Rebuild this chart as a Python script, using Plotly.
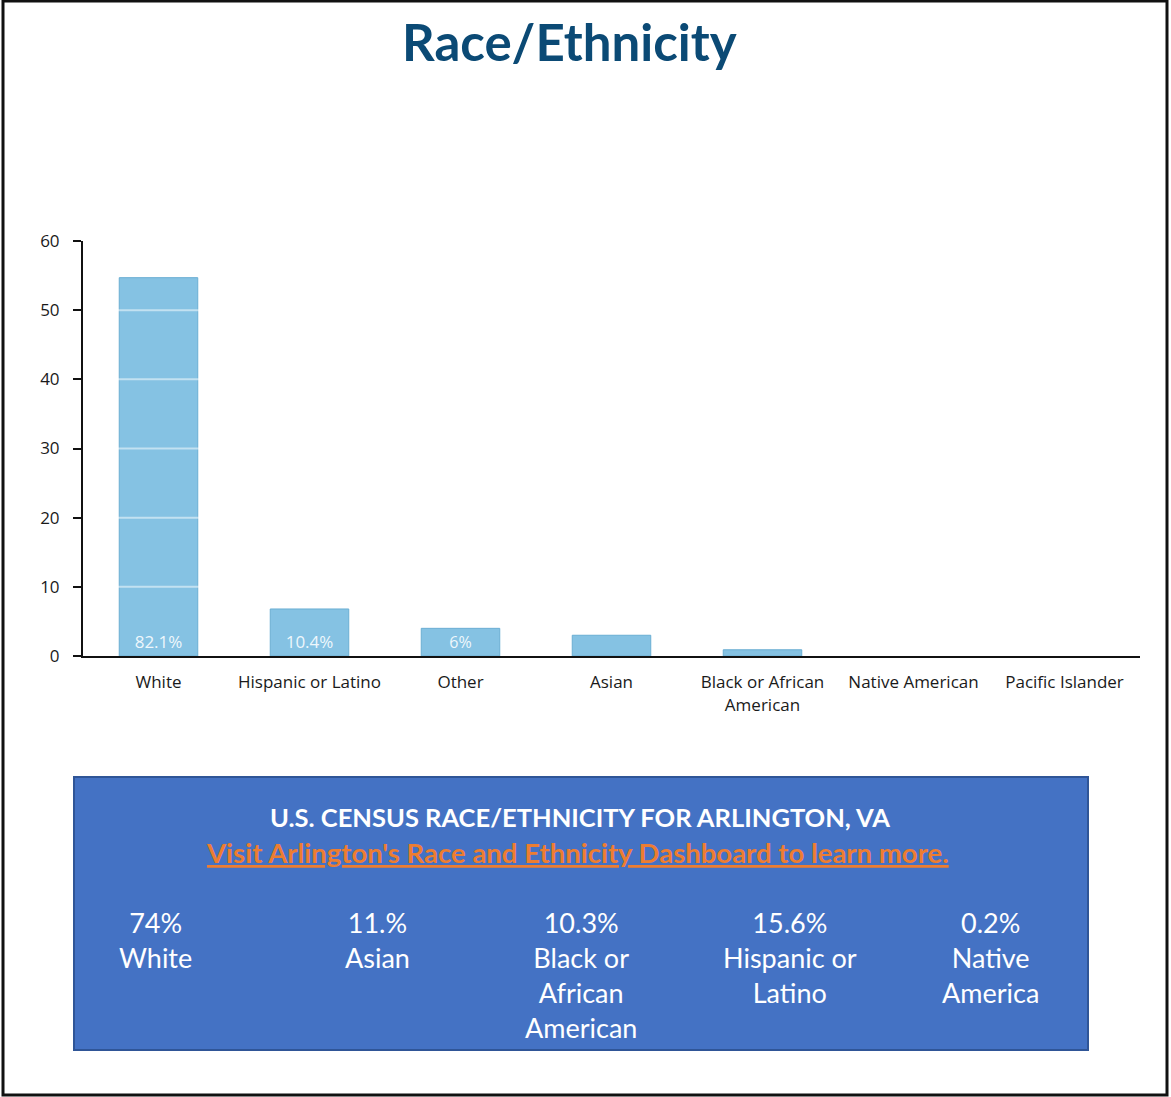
import plotly.graph_objects as go

W, H = 1171, 1097

categories = ["White", "Hispanic or Latino", "Other", "Asian",
              "Black or African<br>American", "Native American", "Pacific Islander"]
values = [54.7, 6.8, 4, 3, 0.9, 0, 0]
bar_labels = ["82.1%", "10.4%", "6%", "", "", "", ""]
y_ticks = [0, 10, 20, 30, 40, 50, 60]

census_pct = ["74%", "11.%", "10.3%", "15.6%", "0.2%"]
census_names = ["White", "Asian", "Black or<br>African<br>American",
                "Hispanic or<br>Latino", "Native<br>America"]
census_x_px = [155, 377, 581, 790, 990]

def px(x):
    return x / W

def py(y):
    return 1 - y / H

edge_widths = [1 if v > 0 else 0 for v in values]

fig = go.Figure()
fig.add_trace(go.Bar(
    x=categories, y=values, text=bar_labels,
    textposition="inside", insidetextanchor="start",
    textangle=0,
    textfont=dict(family="Open Sans", size=17, color="#eef7fc"),
    marker=dict(color="#85c2e3", line=dict(color="#6aaed3", width=edge_widths)),
    width=0.52, cliponaxis=False, hoverinfo="skip",
))

shapes = []
for t in y_ticks[1:-1]:
    shapes.append(dict(type="line", xref="paper", yref="y",
                       x0=px(83), x1=px(1140), y0=t, y1=t,
                       line=dict(color="rgba(255,255,255,0.5)", width=2),
                       layer="above"))
shapes.append(dict(type="rect", xref="paper", yref="paper",
                   x0=px(74), x1=px(1088), y0=py(1050), y1=py(777),
                   fillcolor="#4472c4", line=dict(color="#2f5597", width=2),
                   layer="below"))
shapes.append(dict(type="rect", xref="paper", yref="paper",
                   x0=px(3), x1=px(1167), y0=py(1095), y1=py(1),
                   line=dict(color="#111111", width=3), layer="above"))

annotations = [
    dict(text="<b>Race/Ethnicity</b>", x=px(569), y=py(41), xref="paper", yref="paper",
         showarrow=False, xanchor="center", yanchor="middle",
         font=dict(family="Lato", size=51, color="#0b4a75")),
    dict(text="<b>U.S. CENSUS RACE/ETHNICITY FOR ARLINGTON, VA</b>",
         x=px(580), y=py(817), xref="paper", yref="paper",
         showarrow=False, xanchor="center", yanchor="middle",
         font=dict(family="Lato", size=25.5, color="#ffffff")),
    dict(text="<b><u>Visit Arlington's Race and Ethnicity Dashboard to learn more.</u></b>",
         x=px(577), y=py(852), xref="paper", yref="paper",
         showarrow=False, xanchor="center", yanchor="middle",
         font=dict(family="Lato", size=27.5, color="#ed7d31")),
]
for pct, name, cx in zip(census_pct, census_names, census_x_px):
    annotations.append(dict(text=pct + "<br>" + name, x=px(cx), y=py(904),
                            xref="paper", yref="paper", showarrow=False,
                            xanchor="center", yanchor="top", align="center",
                            font=dict(family="Lato", size=27, color="#ffffff")))

fig.update_layout(
    width=W, height=H, autosize=False,
    margin=dict(l=0, r=0, t=0, b=0, pad=0, autoexpand=False),
    paper_bgcolor="white", plot_bgcolor="white",
    showlegend=False,
    shapes=shapes, annotations=annotations,
    xaxis=dict(domain=[px(83), px(1140)], range=[-0.5, 6.5],
               showline=True, linecolor="#111111", linewidth=2,
               ticks="", showgrid=False, zeroline=False, automargin=False,
               tickfont=dict(family="Open Sans", size=17, color="#1a1a1a"),
               ticklabelstandoff=10),
    yaxis=dict(domain=[py(656), py(241)], range=[0, 60],
               tickvals=y_ticks, showline=True, linecolor="#111111", linewidth=2,
               ticks="outside", ticklen=8, tickwidth=2, tickcolor="#111111",
               showgrid=False, zeroline=False, automargin=False,
               tickfont=dict(family="Open Sans", size=17, color="#1a1a1a"),
               ticklabelstandoff=10),
)

fig.write_html("out.html", config={"displayModeBar": False},
               post_script="document.body.style.margin='0';")
